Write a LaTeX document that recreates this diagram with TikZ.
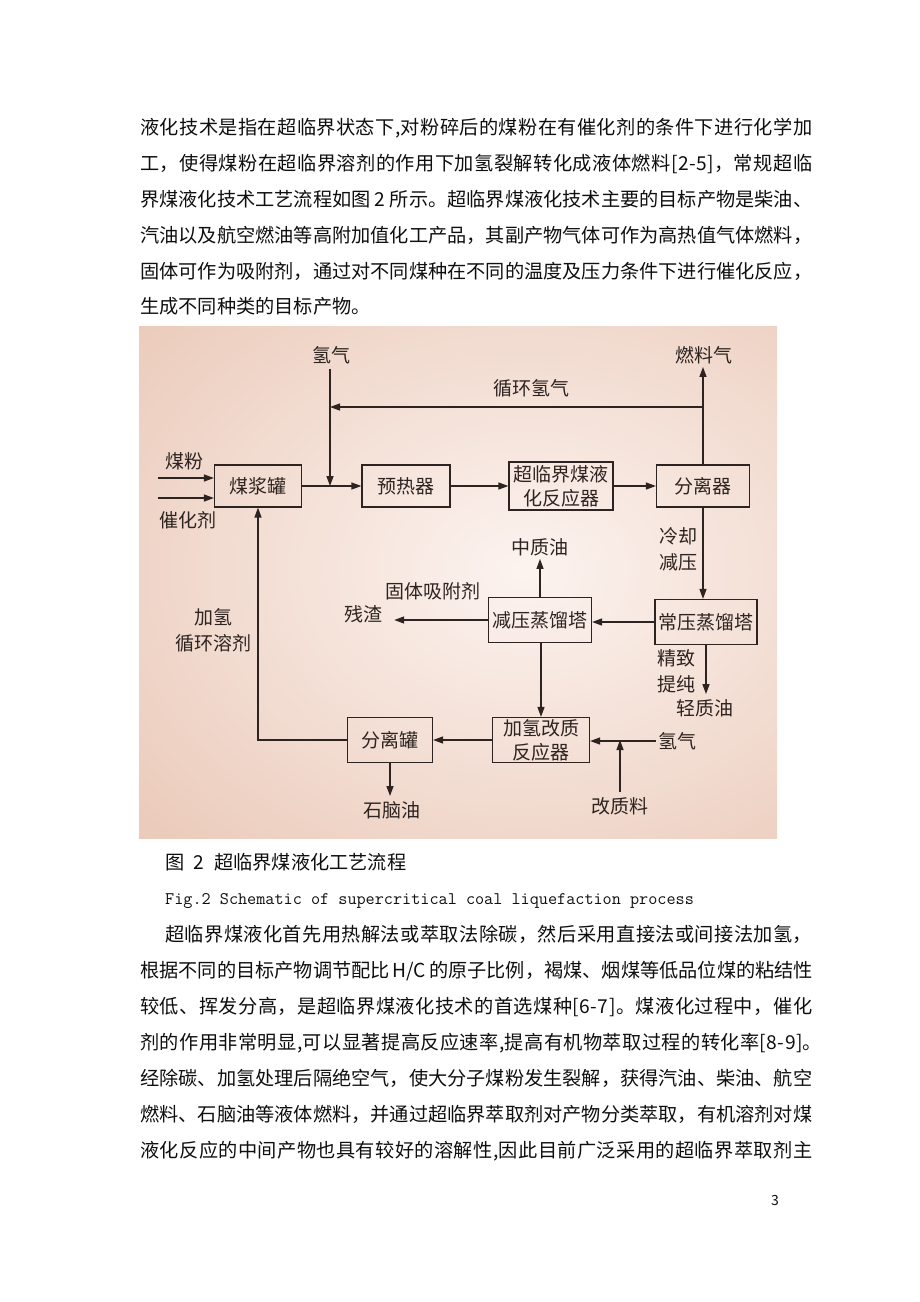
\documentclass[tikz,border=0pt]{standalone}
\usepackage{fontspec}
\newfontfamily\cjk{Noto Sans CJK SC}
\usetikzlibrary{arrows.meta}
\ExplSyntaxOn
\NewDocumentCommand\jline{mm}{\hbox~to~#1{\tl_map_inline:nn{#2}{##1\hfil}\unskip}}
\ExplSyntaxOff
\definecolor{bgout}{RGB}{228,187,166}
\definecolor{bgin}{RGB}{252,243,239}
\definecolor{ink}{RGB}{45,35,32}
\definecolor{txt}{RGB}{15,15,15}
\begin{document}
\begin{tikzpicture}[x=1pt,y=-1pt,
 box/.style={draw=ink, line width=1.2pt, inner sep=0pt, align=center, font=\cjk\fontsize{19}{24}\selectfont, text=ink},
 lbl/.style={inner sep=0pt, align=center, font=\cjk\fontsize{19}{26}\selectfont, text=ink},
 flow/.style={draw=ink, line width=1.3pt, -{Triangle[length=10pt,width=7pt]}},
 pline/.style={draw=ink, line width=1.3pt},
 body/.style={anchor=base west, inner sep=0pt, font=\cjk\fontsize{19.2}{24}\selectfont, text=txt}]
\useasboundingbox (0,0) rectangle (920,1302);
\fill[white] (0,0) rectangle (920,1302);

% paragraph 1
\node[body] (p1) at (140,134) {\jline{672pt}{液化技术是指在超临界状态下,对粉碎后的煤粉在有催化剂的条件下进行化学加}};
\node[body] (p2) at (140,170) {\jline{672pt}{工，使得煤粉在超临界溶剂的作用下加氢裂解转化成液体燃料[2-5]，常规超临}};
\node[body] (p3) at (140,206) {\jline{672pt}{界煤液化技术工艺流程如图{~2~}所示。超临界煤液化技术主要的目标产物是柴油、}};
\node[body] (p4) at (140,242) {\jline{672pt}{汽油以及航空燃油等高附加值化工产品，其副产物气体可作为高热值气体燃料，}};
\node[body] (p5) at (140,278) {\jline{672pt}{固体可作为吸附剂，通过对不同煤种在不同的温度及压力条件下进行催化反应，}};
\node[body] (p6) at (140,313) {生成不同种类的目标产物。};

% figure background
\begin{scope}
\clip (139,326) rectangle (777,838);
\fill[bgout] (139,326) rectangle (777,838);
\shade[inner color=bgin, outer color=bgout] (525,570) ellipse [x radius=720, y radius=540];
\end{scope}

% boxes
\node[box, minimum width=87pt, minimum height=42pt] (mjg) at (258,486) {煤浆罐};
\node[box, minimum width=88pt, minimum height=42pt] (yrq) at (406,486) {预热器};
\node[box, minimum width=104pt, minimum height=48pt] (fyq) at (561,486) {超临界煤液\\化反应器};
\node[box, minimum width=93pt, minimum height=42pt] (flq) at (703,486) {分离器};
\node[box, minimum width=102pt, minimum height=45pt] (cy) at (706,622) {常压蒸馏塔};
\node[box, minimum width=103pt, minimum height=45pt] (jy) at (540,620) {减压蒸馏塔};
\node[box, minimum width=97pt, minimum height=45pt] (jq) at (541,740) {加氢改质\\反应器};
\node[box, minimum width=85pt, minimum height=45pt] (flg) at (390,740) {分离罐};

% labels
\node[lbl] (h2a) at (331,355) {氢气};
\node[lbl] (fuel) at (704,355) {燃料气};
\node[lbl] (xhqq) at (531,388) {循环氢气};
\node[lbl] (mf) at (184,461) {煤粉};
\node[lbl] (chj) at (188,520) {催化剂};
\node[lbl] (ljjy) at (678,549) {冷却\\减压};
\node[lbl] (zzy) at (540,547) {中质油};
\node[lbl] (gt) at (433,591) {固体吸附剂};
\node[lbl] (cz) at (363,614) {残渣};
\node[lbl] (jqxh) at (213,630) {加氢\\循环溶剂};
\node[lbl] (jztc) at (676,671) {精致\\提纯};
\node[lbl] (qzy) at (705,708) {轻质油};
\node[lbl] (h2b) at (677,741) {氢气};
\node[lbl] (gzl) at (620,806) {改质料};
\node[lbl] (snh) at (392,810) {石脑油};

% connectors
\coordinate (in1) at (158,478);
\coordinate (in2) at (158,498);
\coordinate (r1) at (703,407);
\coordinate (r2) at (330,407);
\coordinate (j1) at (330,486);
\draw[flow] (in1) -- (in1 -| mjg.west);
\draw[flow] (in2) -- (in2 -| mjg.west);
\draw[flow] (mjg.east) -- (yrq.west);
\draw[flow] (yrq.east) -- (fyq.west);
\draw[flow] (fyq.east) -- (flq.west);
\draw[flow, shorten <=5pt] (h2a.south -| j1) -- (j1);
\draw[flow, shorten >=3pt] (flq.north) -- (fuel.south -| flq.north);
\draw[flow] (r1) -- (r2);
\draw[flow] (flq.south) -- (flq.south |- cy.north);
\draw[flow] (cy.west) -- (cy.west -| jy.east);
\draw[flow, shorten >=3pt] (jy.north) -- (zzy.south -| jy.north);
\draw[flow, shorten >=12pt] (jy.west) -- (jy.west -| cz.east);
\draw[flow, shorten >=5pt] (cy.south) -- (cy.south |- qzy.north);
\draw[flow] (jy.south -| jq.north) -- (jq.north);
\draw[flow, shorten <=2pt] (h2b.west) -- (h2b.west -| jq.east);
\draw[flow, shorten <=5pt] (gzl.north) -- (gzl.north |- jq.east);
\draw[flow] (jq.west) -- (jq.west -| flg.east);
\draw[flow, shorten >=5pt] (flg.south) -- (flg.south |- snh.north);
\draw[flow] (flg.west) -- (flg.west -| mjg.south) -- (mjg.south);

% captions
\node[body] (cap1) at (165,869) {图\hspace{0.5em}2\hspace{0.5em}超临界煤液化工艺流程};
\node[body, font=\ttfamily\fontsize{17.7}{20}\selectfont] (cap2) at (165,904) {Fig.2 Schematic of supercritical coal liquefaction process};

% paragraph 2
\node[body] (q1) at (165,941) {\jline{647pt}{超临界煤液化首先用热解法或萃取法除碳，然后采用直接法或间接法加氢，}};
\node[body] (q2) at (140,977) {\jline{672pt}{根据不同的目标产物调节配比{~H/C~}的原子比例，褐煤、烟煤等低品位煤的粘结性}};
\node[body] (q3) at (140,1013) {\jline{672pt}{较低、挥发分高，是超临界煤液化技术的首选煤种[6-7]。煤液化过程中，催化}};
\node[body] (q4) at (140,1049) {\jline{682pt}{剂的作用非常明显,可以显著提高反应速率,提高有机物萃取过程的转化率[8-9]。}};
\node[body] (q5) at (140,1085) {\jline{672pt}{经除碳、加氢处理后隔绝空气，使大分子煤粉发生裂解，获得汽油、柴油、航空}};
\node[body] (q6) at (140,1121) {\jline{672pt}{燃料、石脑油等液体燃料，并通过超临界萃取剂对产物分类萃取，有机溶剂对煤}};
\node[body] (q7) at (140,1157) {\jline{672pt}{液化反应的中间产物也具有较好的溶解性,因此目前广泛采用的超临界萃取剂主}};

\node[body, font=\cjk\fontsize{14}{16}\selectfont] (pg) at (771,1205) {3};
\end{tikzpicture}
\end{document}
